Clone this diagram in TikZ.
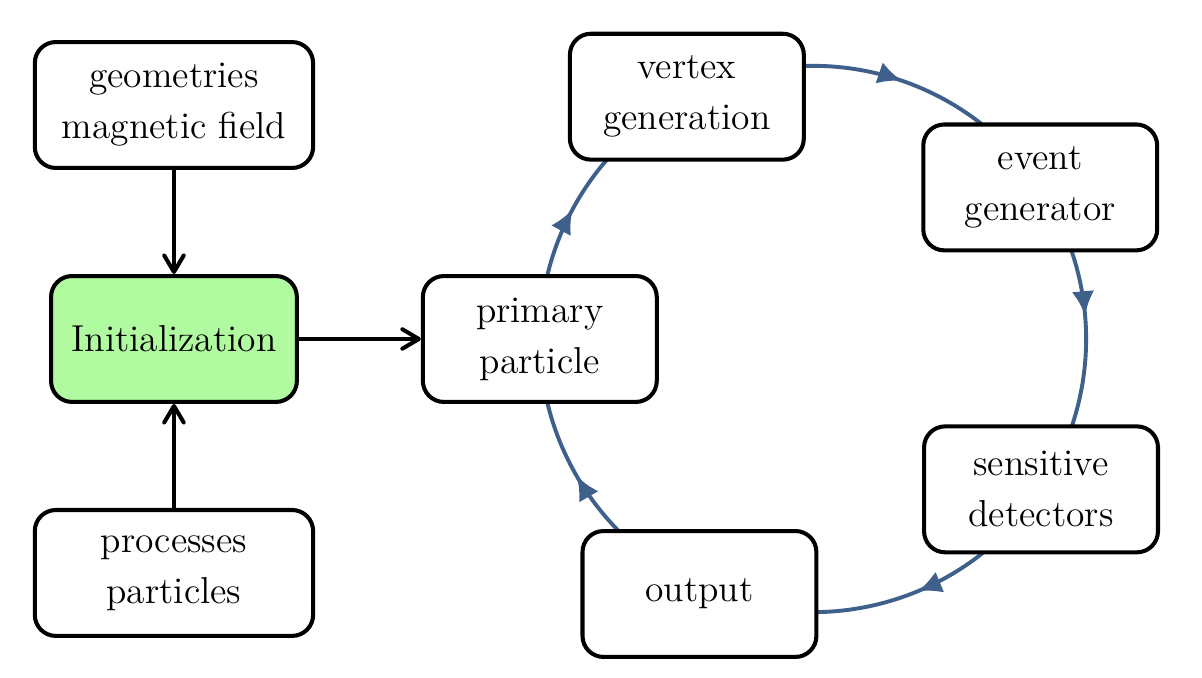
\documentclass[12pt,tikz,border=0pt]{standalone}
\usetikzlibrary{arrows.meta,decorations.markings,backgrounds}
\definecolor{loopblue}{RGB}{64,96,140}
\definecolor{initgreen}{RGB}{176,250,160}

\begin{document}
\begin{tikzpicture}[
  box/.style={draw, line width=1.35pt, rounded corners=7pt, fill=white,
    align=center, inner sep=0pt, minimum height=1.475cm,
    font=\fontsize{12.5}{17}\selectfont},
  leftbox/.style={box, minimum width=3.26cm},
  loopbox/.style={box, minimum width=2.74cm},
  feed/.style={line width=1.35pt, -{Straight Barb[length=5.5pt,width=6.5pt,round]}},
  flow/.style={draw, color=loopblue, line width=1.3pt, postaction={decorate},
    decoration={markings, mark=at position #1 with {\arrow{Latex[length=8pt,width=7.5pt]}}}}
]
\useasboundingbox (-9.524,-3.971) rectangle (4.557,3.971);

\def\R{3.2}
\def\xl{-7.486}
\def\yl{2.741}

\coordinate (hub) at (0,0);
\coordinate (back) at (246:\R);

% set-up column
\node[leftbox] (geom) at (\xl, \yl) {geometries\\magnetic field};
\node[box, fill=initgreen, minimum width=2.88cm] (init) at (\xl, 0) {Initialization};
\node[leftbox] (proc) at (\xl, -\yl) {processes\\particles};

% event loop
\node[loopbox] (primary) at (180:\R) {primary\\particle};
\node[loopbox] (vertex) at (117.5:\R) {vertex\\generation};
\node[loopbox] (event) at (33.7:\R) {event\\generator};
\node[loopbox] (sensitive) at (-33.4:\R) {sensitive\\detectors};
\node[loopbox] (output) at (246:3.27) {output};

\draw[feed] (geom) -- (init);
\draw[feed] (proc) -- (init);
\draw[feed] (init) -- (primary);

\begin{scope}[on background layer]
\draw[flow=0.453] (primary.center) arc[start angle=180, end angle=117.5, radius=\R];
\draw[flow=0.555] (vertex.center) arc[start angle=117.5, end angle=33.7, radius=\R];
\draw[flow=0.428] (event.center) arc[start angle=33.7, end angle=-33.4, radius=\R];
\draw[flow=0.423] (sensitive.center) arc[start angle=-33.4, end angle=-114, radius=\R];
\draw[flow=0.544] (back) arc[start angle=246, end angle=180, radius=\R];
\end{scope}

\end{tikzpicture}
\end{document}
